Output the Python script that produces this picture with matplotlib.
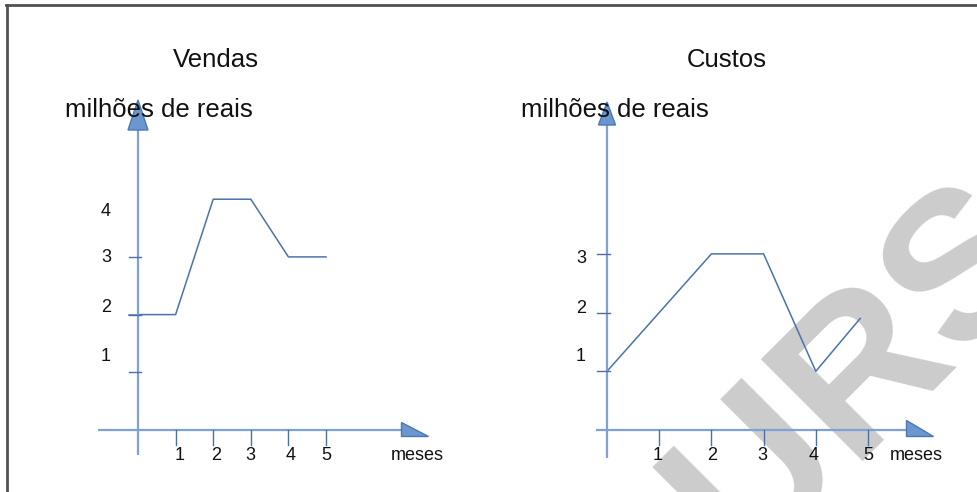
import matplotlib
matplotlib.use('Agg')
import matplotlib.pyplot as plt
from matplotlib.patches import Polygon

plt.rcParams['font.family'] = ['Liberation Sans', 'DejaVu Sans']

# dados
meses = [1, 2, 3, 4, 5]
vendas_x = [0, 1, 2, 3, 4, 5]
vendas_y = [2, 2, 4, 4, 3, 3]
vendas_ticks = [1, 2, 3, 4]
custos_x = [0, 2, 3, 4, 4.85]
custos_y = [1, 3, 3, 1, 1.9]
custos_ticks = [1, 2, 3]

W, H = 978, 492
fig = plt.figure(figsize=(W / 100, H / 100), dpi=100)

AXIS_C = '#7ea2d6'
LINE_C = '#4a72b0'
TICK_C = '#4f6fa8'
ARROW_FC = '#6b96cf'
ARROW_EC = '#4c78b4'


def px(x, y):
    return x / W, 1 - y / H


def make_axes(box, origin, unit):
    l, t, r, b = box
    ox, oy = origin
    ux, uy = unit
    ax = fig.add_axes([l / W, 1 - b / H, (r - l) / W, (b - t) / H])
    ax.set_xlim((l - ox) / ux, (r - ox) / ux)
    ax.set_ylim((oy - b) / uy, (oy - t) / uy)
    ax.axis('off')
    ax.patch.set_alpha(0)
    return ax


def draw_chart(ax, unit, x_ext, y_ext, xarrow, yarrow, ticks_y, ylab_dx, ylab_nudge,
               xlab_nudge, ytick_len, meses_x):
    ux, uy = unit
    # eixos
    ax.plot(x_ext, [0, 0], color=AXIS_C, lw=1.6, clip_on=False, solid_capstyle='butt')
    ax.plot([0, 0], y_ext, color=AXIS_C, lw=1.6, clip_on=False, solid_capstyle='butt')
    # seta horizontal
    up, dn, ln = xarrow
    xe = x_ext[1]
    ax.add_patch(Polygon([(xe, up / uy), (xe, -dn / uy), (xe + ln / ux, -dn / uy)],
                         closed=True, fc=ARROW_FC, ec=ARROW_EC, lw=1, clip_on=False, zorder=3))
    # seta vertical
    hw, hh = yarrow
    ye = y_ext[1]
    ax.add_patch(Polygon([(-hw / ux, ye), (hw / ux, ye), (0, ye + hh / uy)],
                         closed=True, fc=ARROW_FC, ec=ARROW_EC, lw=1, clip_on=False, zorder=3))
    # marcas
    for v in meses:
        ax.plot([v, v], [0, -15 / uy], color=TICK_C, lw=1, clip_on=False)
    for v in ticks_y:
        if v <= 3:
            ax.plot([ytick_len[0] / ux, ytick_len[1] / ux], [v, v], color=TICK_C, lw=1,
                    clip_on=False)
    for v, n in zip(ticks_y, ylab_nudge):
        ax.annotate(str(v), xy=(0, v), xytext=(ylab_dx, n), textcoords='offset pixels',
                    ha='center', va='center', fontsize=13, color='#111111',
                    annotation_clip=False)
    for v, n in zip(meses, xlab_nudge):
        ax.annotate(str(v), xy=(v, 0), xytext=(n, -25), textcoords='offset pixels',
                    ha='center', va='center', fontsize=13, color='#111111',
                    annotation_clip=False)
    ax.annotate('meses', xy=(meses_x, 0), xytext=(0, -25), textcoords='offset pixels',
                ha='center', va='center', fontsize=13, color='#111111', annotation_clip=False)


# Vendas
u1 = (37.6, 57.7)
ax1 = make_axes((60, 90, 460, 480), (138, 430), u1)
ax1.plot(vendas_x, vendas_y, color=LINE_C, lw=1.1, clip_on=False, zorder=2)
ax1.plot([-9 / u1[0], 0], [2, 2], color=LINE_C, lw=1.1, clip_on=False)
draw_chart(ax1, u1, [(98 - 138) / u1[0], (401 - 138) / u1[0]],
           [(430 - 455) / u1[1], (430 - 130) / u1[1]],
           (8, 6, 27), (10, 30), vendas_ticks, -32, [16, 7, -1, -12],
           [4, 3, 0, 2, 0], (-9, 3), (417 - 138) / u1[0])

# Custos
u2 = (52.2, 58.7)
ax2 = make_axes((520, 90, 960, 480), (607, 430), u2)
ax2.plot(custos_x, custos_y, color=LINE_C, lw=1.1, clip_on=False, zorder=2)
draw_chart(ax2, u2, [(596 - 607) / u2[0], (906 - 607) / u2[0]],
           [(430 - 458) / u2[1], (430 - 125) / u2[1]],
           (10, 6, 27), (8.5, 23), custos_ticks, -26, [15, 4, -5],
           [-2, 1, -1, -2, 0], (-10, 3), (916 - 607) / u2[0])

# títulos
fig.text(*px(216, 60), 'Vendas', ha='center', va='center', fontsize=18.5, color='#111111')
fig.text(*px(727, 60), 'Custos', ha='center', va='center', fontsize=18.5, color='#111111')
fig.text(*px(65, 110), 'milhões de reais', ha='left', va='center', fontsize=18.5,
         color='#111111', zorder=0.5)
fig.text(*px(521, 110), 'milhões de reais', ha='left', va='center', fontsize=18.5,
         color='#111111', zorder=0.5)

# marca d'água
fig.text(*px(637, 679), 'CURSOS', rotation=45, rotation_mode='anchor', ha='left',
         va='baseline', fontsize=151, fontweight='bold', color='#cccccc', zorder=-1)

# moldura
fig.add_artist(plt.Line2D([6 / W, 1], [1 - 5 / H, 1 - 5 / H], color='#505050', lw=2))
fig.add_artist(plt.Line2D([7 / W, 7 / W], [0, 1 - 5 / H], color='#505050', lw=2))

fig.savefig('out.png', dpi=100)
